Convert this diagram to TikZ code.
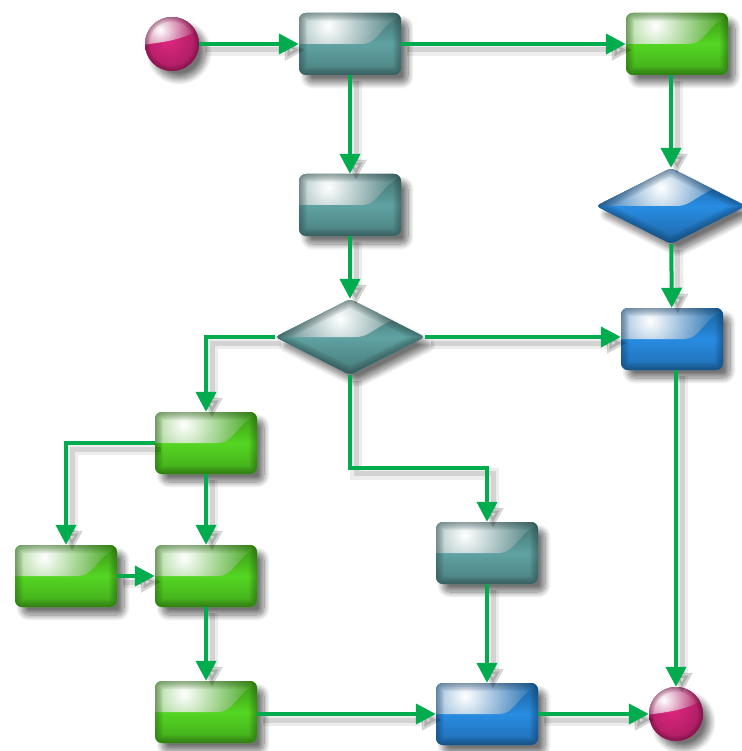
\documentclass[tikz,border=0pt]{standalone}
\usetikzlibrary{shapes.geometric,arrows.meta,shadows.blur}

\definecolor{flow green}{RGB}{0,172,78}
\definecolor{gloss teal}{RGB}{96,162,162}
\definecolor{gloss green}{RGB}{84,214,34}
\definecolor{gloss blue}{RGB}{40,140,226}
\definecolor{gloss magenta}{RGB}{222,38,128}

\tikzstyle{soft shadow}=[blur shadow={shadow xshift=7pt, shadow yshift=-8pt, shadow blur steps=12, shadow blur radius=6pt, shadow opacity=55}]
\tikzstyle{flow}=[draw=flow green, line width=4pt, -{Triangle[length=20pt, width=20pt]},
	preaction={draw=black, opacity=0.07, line width=12pt, transform canvas={shift={(6pt,-6pt)}}},
	preaction={draw=black, opacity=0.11, line width=5pt, transform canvas={shift={(6pt,-6pt)}}}]

% glossy rounded box
\tikzstyle{box}=[rectangle, rounded corners=7pt, minimum width=102pt, minimum height=62pt, inner sep=0pt, soft shadow]
\tikzset{
	box gloss/.style={box, fill=#1, path picture={
		\path (path picture bounding box.center) coordinate (gc);
		\shade[top color=#1!60!black, bottom color=#1!72!black, middle color=#1]
			([shift={(-60pt,-40pt)}]gc) rectangle ([shift={(60pt,40pt)}]gc);
		\begin{scope}
			\clip ([shift={(-60pt,40pt)}]gc) -- ([shift={(-60pt,0pt)}]gc) -- ([shift={(6pt,0pt)}]gc)
				.. controls ([shift={(28pt,0pt)}]gc) and ([shift={(34pt,24pt)}]gc) .. ([shift={(60pt,30pt)}]gc)
				-- ([shift={(60pt,40pt)}]gc) -- cycle;
			\shade[inner color=white, outer color=#1!78!black] ([shift={(-22pt,18pt)}]gc) circle (70pt);
		\end{scope}
		\foreach \w in {3,7,11,15}
			\draw[#1!35!black, opacity=0.12, line width=\w pt, rounded corners=7pt]
				([shift={(-51pt,-31pt)}]gc) rectangle ([shift={(51pt,31pt)}]gc);
	}},
	% glossy diamond
	dia gloss/.style={diamond, rounded corners=4pt, minimum width=150pt, minimum height=76pt, inner sep=0pt,
		soft shadow, fill=#1, path picture={
		\path (path picture bounding box.center) coordinate (gc);
		\shade[top color=#1!60!black, bottom color=#1!72!black, middle color=#1]
			([shift={(-80pt,-40pt)}]gc) rectangle ([shift={(80pt,40pt)}]gc);
		\begin{scope}
			\clip ([shift={(-80pt,40pt)}]gc) -- ([shift={(-80pt,0pt)}]gc) -- ([shift={(2pt,0pt)}]gc)
				.. controls ([shift={(24pt,0pt)}]gc) and ([shift={(30pt,20pt)}]gc) .. ([shift={(80pt,26pt)}]gc)
				-- ([shift={(80pt,40pt)}]gc) -- cycle;
			\shade[inner color=white, outer color=#1!78!black] ([shift={(-10pt,18pt)}]gc) circle (70pt);
		\end{scope}
		\foreach \w in {3,7,11,15}
			\draw[#1!35!black, opacity=0.12, line width=\w pt, rounded corners=4pt]
				([shift={(-75pt,0pt)}]gc) -- ([shift={(0pt,38pt)}]gc) -- ([shift={(75pt,0pt)}]gc)
				-- ([shift={(0pt,-38pt)}]gc) -- cycle;
	}},
	% glossy ball
	ball gloss/.style={circle, minimum size=54pt, inner sep=0pt, soft shadow, fill=#1, path picture={
		\path (path picture bounding box.center) coordinate (gc);
		\shade[inner color=#1, outer color=#1!50!black] ([shift={(-4pt,4pt)}]gc) circle (66pt);
		\begin{scope}
			\clip ([shift={(-30pt,30pt)}]gc) -- ([shift={(-30pt,-1pt)}]gc)
				.. controls ([shift={(-8pt,2pt)}]gc) and ([shift={(12pt,4pt)}]gc) .. ([shift={(30pt,16pt)}]gc)
				-- ([shift={(30pt,30pt)}]gc) -- cycle;
			\shade[inner color=white, outer color=#1!80!black] ([shift={(-12pt,14pt)}]gc) circle (36pt);
		\end{scope}
		\foreach \w in {3,6,9}
			\draw[#1!30!black, opacity=0.12, line width=\w pt] (gc) circle (27pt);
	}}
}

\begin{document}
\begin{tikzpicture}[x=1pt, y=-1pt]
	\useasboundingbox (0,0) rectangle (741,751);

	% top row
	\node[ball gloss=gloss magenta] (start) at (172, 44) {};
	\node[box gloss=gloss teal]     (a)     at (350, 44) {};
	\node[box gloss=gloss green]    (b)     at (677, 44) {};

	% second row
	\node[box gloss=gloss teal]  (c)  at (350,205) {};
	\node[dia gloss=gloss blue]  (d1) at (671,206) {};

	% central decision
	\node[dia gloss=gloss teal]  (d2) at (350,337) {};
	\node[box gloss=gloss blue]  (e)  at (672,339) {};

	% left branch
	\node[box gloss=gloss green] (f) at (206,443) {};
	\node[box gloss=gloss green] (g) at ( 66,576) {};
	\node[box gloss=gloss green] (h) at (206,576) {};
	\node[box gloss=gloss green] (j) at (206,712) {};

	% right branch
	\node[box gloss=gloss teal]  (i) at (487,553) {};
	\node[box gloss=gloss blue]  (k) at (487,714) {};
	\node[ball gloss=gloss magenta] (stop) at (676,714) {};

	% connectors
	\draw[flow] (start) -- (a);
	\draw[flow] (a) -- (b);
	\draw[flow] (a) -- (c);
	\draw[flow] (b.south -| d1.north) -- (d1.north);
	\draw[flow] (c) -- (d2);
	\draw[flow] (d1) -- (e);
	\draw[flow] (d2.east) -- (e.west |- d2.east);
	\draw[flow] (d2.west) -| (f.north);
	\draw[flow] (d2.south) |- ([yshift=54pt]i.north) -- (i.north);
	\draw[flow] (f.west) -| (g.north);
	\draw[flow] (f) -- (h);
	\draw[flow] (g) -- (h);
	\draw[flow] (h) -- (j);
	\draw[flow] (j.east |- k.west) -- (k.west);
	\draw[flow] (i) -- (k);
	\draw[flow] (k) -- (stop);
	\draw[flow] (e.south -| stop.north) -- (stop.north);
\end{tikzpicture}
\end{document}
